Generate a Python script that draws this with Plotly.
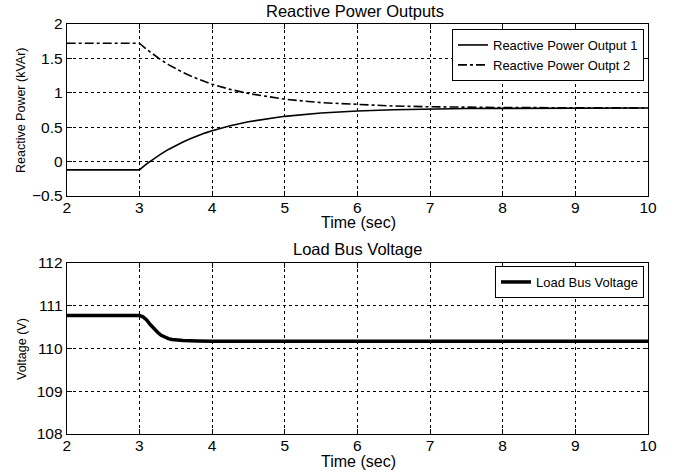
import plotly.graph_objects as go

# Reactive power data
t_q = [2, 3, 3.1, 3.2, 3.3, 3.4, 3.5, 3.6, 3.7, 3.8, 3.9, 4, 4.25, 4.5, 4.75, 5, 5.5, 6, 6.5, 7, 7.5, 8, 9, 10]
q1 = [-0.12, -0.12, -0.034, 0.043, 0.113, 0.177, 0.234, 0.286, 0.333, 0.376, 0.414, 0.449, 0.522, 0.58, 0.623,
      0.658, 0.706, 0.735, 0.753, 0.764, 0.771, 0.774, 0.778, 0.78]
q2 = [1.72, 1.72, 1.631, 1.55, 1.477, 1.41, 1.35, 1.296, 1.247, 1.202, 1.163, 1.125, 1.05, 0.99, 0.944,
      0.907, 0.857, 0.827, 0.808, 0.797, 0.79, 0.786, 0.782, 0.78]

# Voltage data
t_v = [2, 3, 3.05, 3.1, 3.15, 3.2, 3.25, 3.3, 3.35, 3.4, 3.45, 3.5, 3.6, 3.8, 4, 10]
v = [110.77, 110.77, 110.74, 110.67, 110.56, 110.46, 110.38, 110.31, 110.26, 110.23, 110.21, 110.20, 110.185,
     110.175, 110.17, 110.17]

x_ticks = [2, 3, 4, 5, 6, 7, 8, 9, 10]
q_ticks = [-0.5, 0, 0.5, 1, 1.5, 2]
v_ticks = [108, 109, 110, 111, 112]

FONT = "Liberation Sans, Arial, sans-serif"

fig = go.Figure()
fig.add_trace(go.Scatter(x=t_q, y=q1, mode="lines", name="Reactive Power Output 1",
                         line=dict(color="black", width=1.6),
                         xaxis="x", yaxis="y", legend="legend"))
fig.add_trace(go.Scatter(x=t_q, y=q2, mode="lines", name="Reactive Power Outpt 2",
                         line=dict(color="black", width=1.6, dash="dashdot"),
                         xaxis="x", yaxis="y", legend="legend"))
fig.add_trace(go.Scatter(x=t_v, y=v, mode="lines", name="Load Bus Voltage",
                         line=dict(color="black", width=3.5),
                         xaxis="x2", yaxis="y2", legend="legend2"))

W, H = 679, 472


def px(x):
    return x / W


def py(y):
    return 1 - y / H


xd = [px(66.7), px(648)]
y1d = [py(196), py(24)]
y2d = [py(434), py(263)]

ax_common = dict(showline=True, linecolor="black", linewidth=1, mirror="ticks",
                 ticks="inside", ticklen=5, tickcolor="black", automargin=False,
                 showgrid=True, gridcolor="black", griddash="dot", gridwidth=1,
                 zeroline=False, tickfont=dict(family=FONT, size=15.5, color="black"))

fig.update_layout(
    template="none",
    width=W, height=H,
    margin=dict(l=0, r=0, t=0, b=0),
    paper_bgcolor="white", plot_bgcolor="white",
    font=dict(family=FONT, color="black"),
    xaxis=dict(domain=xd, range=[2, 10], tickvals=x_ticks, anchor="y", ticklabelstandoff=-3, **ax_common),
    yaxis=dict(domain=y1d, range=[-0.5, 2], tickvals=q_ticks, anchor="x", **ax_common),
    xaxis2=dict(domain=xd, range=[2, 10], tickvals=x_ticks, anchor="y2", ticklabelstandoff=-3, **ax_common),
    yaxis2=dict(domain=y2d, range=[108, 112], tickvals=v_ticks, anchor="x2", **ax_common),
    legend=dict(x=px(644), y=py(29), xanchor="right", yanchor="top",
                bordercolor="black", borderwidth=1, bgcolor="white",
                font=dict(family=FONT, size=13), tracegroupgap=0, itemwidth=30),
    legend2=dict(x=px(644), y=py(266), xanchor="right", yanchor="top",
                 bordercolor="black", borderwidth=1, bgcolor="white",
                 font=dict(family=FONT, size=13), itemwidth=30),
    showlegend=True,
)

annos = [
    dict(text="Reactive Power Outputs", x=px(355), y=py(11), size=16.5, angle=0),
    dict(text="Time (sec)", x=px(358), y=py(223), size=16, angle=0),
    dict(text="Load Bus Voltage", x=px(357), y=py(249), size=16.5, angle=0),
    dict(text="Time (sec)", x=px(358), y=py(461.5), size=16, angle=0),
    dict(text="Reactive Power (kVAr)", x=px(21), y=py(110), size=12.5, angle=-90),
    dict(text="Voltage (V)", x=px(22), y=py(349), size=12.5, angle=-90),
]
for a in annos:
    fig.add_annotation(text=a["text"], x=a["x"], y=a["y"], xref="paper", yref="paper",
                       xanchor="center", yanchor="middle", showarrow=False, textangle=a["angle"],
                       font=dict(family=FONT, size=a["size"], color="black"))

# remove the browser's default 8px body margin so the figure fills the window
fig.write_html("out.html", config={"displayModeBar": False},
               post_script="document.body.style.margin='0px';document.body.style.overflow='hidden';")
